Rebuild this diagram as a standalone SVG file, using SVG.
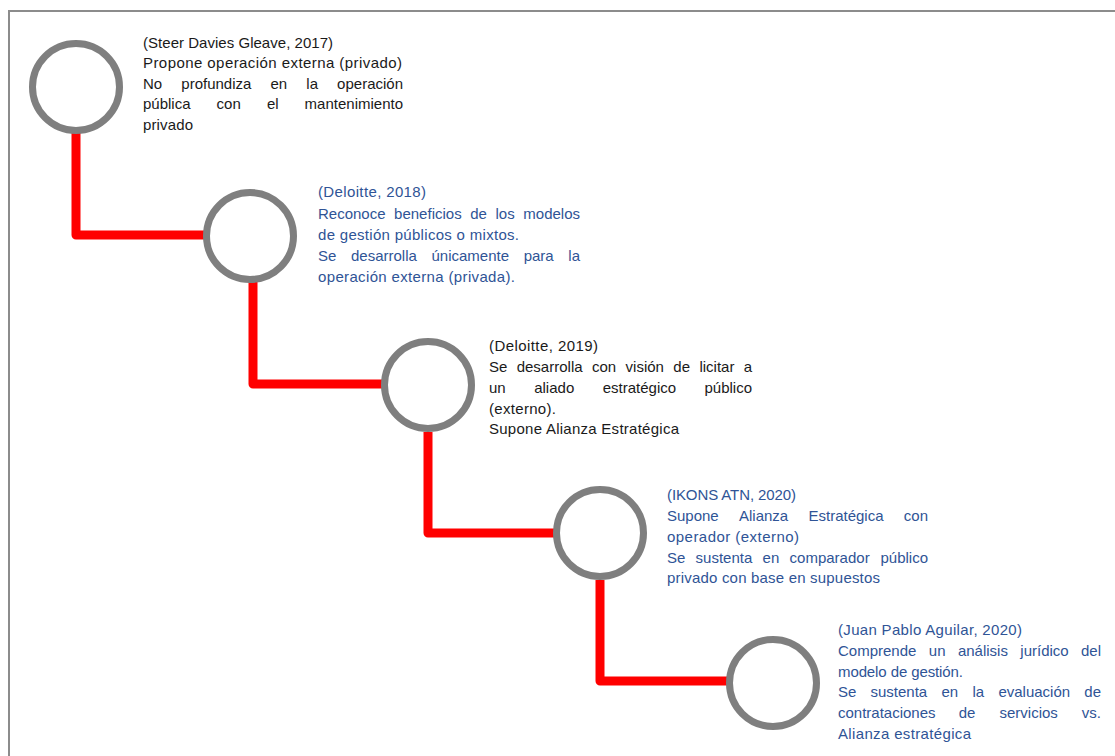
<svg xmlns="http://www.w3.org/2000/svg" width="1115" height="756" viewBox="0 0 1115 756">
<style>
.frame{fill:none;stroke:#8c8c8c;stroke-width:2}
.link{fill:none;stroke:#ff0000;stroke-width:9;stroke-linejoin:round}
.ring{fill:#ffffff;stroke:#7f7f7f;stroke-width:7}
.t{font-family:"Liberation Sans",Arial,sans-serif;font-size:15px}
.k{fill:#1a1a1a}
.b{fill:#2f5496}
.e{text-anchor:end}
</style>
<rect width="1115" height="756" fill="#ffffff"/>
<path class="frame" d="M9,757 V11 H1116"/>
<g id="connectors">
<path class="link" d="M76,133 V235 H205"/>
<path class="link" d="M253,282 V384 H382"/>
<path class="link" d="M428,432 V533 H555"/>
<path class="link" d="M600,580 V681 H728"/>
</g>
<g id="node1">
<circle class="ring" cx="76" cy="87" r="43.5"/>
<text class="t k"><tspan x="143" y="48" textLength="190">(Steer Davies Gleave, 2017)</tspan
><tspan x="143" y="68" textLength="259">Propone operación externa (privado)</tspan
><tspan x="143" y="89">No</tspan><tspan x="181.3" y="89">profundiza</tspan><tspan x="270.5" y="89">en</tspan><tspan x="306.3" y="89">la</tspan><tspan class="e" x="403" y="89">operación</tspan
><tspan x="143" y="109">pública</tspan><tspan x="216.6" y="109">con</tspan><tspan x="266.9" y="109">el</tspan><tspan class="e" x="403" y="109">mantenimiento</tspan
><tspan x="143" y="130" textLength="50">privado</tspan></text>
</g>
<g id="node2">
<circle class="ring" cx="250" cy="236" r="43.5"/>
<text class="t b"><tspan x="318" y="197" textLength="108">(Deloitte, 2018)</tspan
><tspan x="318" y="219">Reconoce</tspan><tspan x="394.1" y="219">beneficios</tspan><tspan x="470.2" y="219">de</tspan><tspan x="495.5" y="219">los</tspan><tspan class="e" x="580" y="219">modelos</tspan
><tspan x="318" y="240" textLength="201">de gestión públicos o mixtos.</tspan
><tspan x="318" y="261">Se</tspan><tspan x="351" y="261">desarrolla</tspan><tspan x="431.5" y="261">únicamente</tspan><tspan x="523.7" y="261">para</tspan><tspan class="e" x="580" y="261">la</tspan
><tspan x="318" y="282" textLength="197">operación externa (privada).</tspan></text>
</g>
<g id="node3">
<circle class="ring" cx="428" cy="385" r="43.5"/>
<text class="t k"><tspan x="489" y="351" textLength="109">(Deloitte, 2019)</tspan
><tspan x="489" y="372">Se</tspan><tspan x="516.7" y="372">desarrolla</tspan><tspan x="592" y="372">con</tspan><tspan x="625.6" y="372">visión</tspan><tspan x="673.3" y="372">de</tspan><tspan x="699.4" y="372">licitar</tspan><tspan class="e" x="752" y="372">a</tspan
><tspan x="489" y="393">un</tspan><tspan x="534.2" y="393">aliado</tspan><tspan x="602.7" y="393">estratégico</tspan><tspan class="e" x="752" y="393">público</tspan
><tspan x="489" y="414" textLength="67">(externo).</tspan
><tspan x="489" y="434" textLength="190">Supone Alianza Estratégica</tspan></text>
</g>
<g id="node4">
<circle class="ring" cx="600" cy="533" r="43.5"/>
<text class="t b"><tspan x="667" y="500" textLength="129">(IKONS ATN, 2020)</tspan
><tspan x="667" y="521">Supone</tspan><tspan x="739" y="521">Alianza</tspan><tspan x="808.5" y="521">Estratégica</tspan><tspan class="e" x="928" y="521">con</tspan
><tspan x="667" y="542" textLength="132">operador (externo)</tspan
><tspan x="667" y="563">Se</tspan><tspan x="695.6" y="563">sustenta</tspan><tspan x="762.6" y="563">en</tspan><tspan x="789.6" y="563">comparador</tspan><tspan class="e" x="928" y="563">público</tspan
><tspan x="667" y="583" textLength="213">privado con base en supuestos</tspan></text>
</g>
<g id="node5">
<circle class="ring" cx="773" cy="683" r="43.5"/>
<text class="t b"><tspan x="838" y="635" textLength="184">(Juan Pablo Aguilar, 2020)</tspan
><tspan x="838" y="656">Comprende</tspan><tspan x="928.8" y="656">un</tspan><tspan x="957.9" y="656">análisis</tspan><tspan x="1020.3" y="656">jurídico</tspan><tspan class="e" x="1101" y="656">del</tspan
><tspan x="838" y="677" textLength="125">modelo de gestión.</tspan
><tspan x="838" y="697">Se</tspan><tspan x="870.5" y="697">sustenta</tspan><tspan x="941.5" y="697">en</tspan><tspan x="972.4" y="697">la</tspan><tspan x="998.4" y="697">evaluación</tspan><tspan class="e" x="1101" y="697">de</tspan
><tspan x="838" y="718">contrataciones</tspan><tspan x="958.7" y="718">de</tspan><tspan x="999.5" y="718">servicios</tspan><tspan class="e" x="1101" y="718">vs.</tspan
><tspan x="838" y="739" textLength="133">Alianza estratégica</tspan></text>
</g>
</svg>
